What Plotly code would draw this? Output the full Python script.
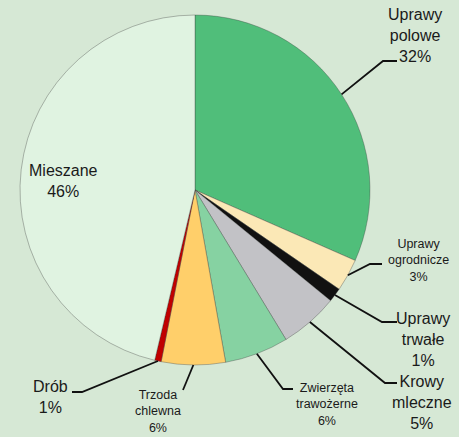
import math
import plotly.graph_objects as go

# ---- data ----
categories = ["Uprawy polowe", "Uprawy ogrodnicze", "Uprawy trwałe", "Krowy mleczne",
              "Zwierzęta trawożerne", "Trzoda chlewna", "Drób", "Mieszane"]
shares = [31.6, 3.0, 1.3, 5.4, 5.9, 5.9, 0.6, 46.3]
share_labels = ["32%", "3%", "1%", "5%", "6%", "6%", "1%", "46%"]
label_text = ["Uprawy<br>polowe", "Uprawy<br>ogrodnicze", "Uprawy<br>trwałe", "Krowy<br>mleczne",
              "Zwierzęta<br>trawożerne", "Trzoda<br>chlewna", "Drób", "Mieszane"]

# ---- layout / style ----
W, H = 459, 437
CX, CY, R = 195, 190, 175          # pie centre and radius in pixels
colors = ["#50BE7A", "#FBE8B6", "#111111", "#C2C2C6", "#86D2A2", "#FFCF6A", "#C00000", "#E0F3E1"]
bg = "#D6E8D5"

# label block centres (px), font sizes, and leader elbow points (px); None = no leader
label_pos = [(415, 36), (418, 260), (423, 339), (422, 402), (327, 404), (158, 411), (50, 397), (63, 181)]
font_sizes = [16, 12.5, 16, 16, 12.5, 12.5, 16, 16]
elbows = [
    [(397, 61), (383, 61)],
    [(382, 264), (370, 264)],
    [(397, 322), (382, 322)],
    [(397, 383), (385, 383)],
    [(293, 389), (283, 389)],
    [(183, 390)],
    [(72, 392), (82, 392)],
    None,
]


def px2paper(x, y):
    return x / W, 1 - y / H


fig = go.Figure()
fig.add_trace(go.Pie(
    labels=categories, values=shares, sort=False, direction="clockwise", rotation=0,
    marker=dict(colors=colors, line=dict(color="rgba(60,60,60,0.35)", width=1)),
    textinfo="none", hoverinfo="label+percent", showlegend=False,
    domain=dict(x=[(CX - R) / W, (CX + R) / W], y=[1 - (CY + R) / H, 1 - (CY - R) / H]),
))

total = sum(shares)
cum = 0.0
shapes = []
annotations = []
for i, v in enumerate(shares):
    mid = (cum + v / 2) / total * 2 * math.pi
    cum += v
    ex, ey = CX + R * math.sin(mid), CY - R * math.cos(mid)
    if elbows[i] is not None:
        pts = [px2paper(*p) for p in elbows[i]] + [px2paper(ex, ey)]
        path = "M " + " L ".join(f"{x:.5f},{y:.5f}" for x, y in pts)
        shapes.append(dict(type="path", path=path, xref="paper", yref="paper",
                           line=dict(color="#111111", width=1.8)))
    lx, ly = px2paper(*label_pos[i])
    annotations.append(dict(
        x=lx, y=ly, xref="paper", yref="paper", showarrow=False,
        xanchor="center", yanchor="middle", align="center",
        text=f"{label_text[i]}<br>{share_labels[i]}",
        font=dict(family="Liberation Sans, Arial, sans-serif", size=font_sizes[i], color="#1a1a1a"),
    ))

fig.update_layout(
    width=W, height=H, margin=dict(l=0, r=0, t=0, b=0),
    paper_bgcolor=bg, plot_bgcolor=bg,
    shapes=shapes, annotations=annotations,
)
fig.write_html("out.html", config={"displayModeBar": False},
               post_script="document.body.style.margin='0';document.body.style.overflow='hidden';"
                           f"document.body.style.background='{bg}';")
